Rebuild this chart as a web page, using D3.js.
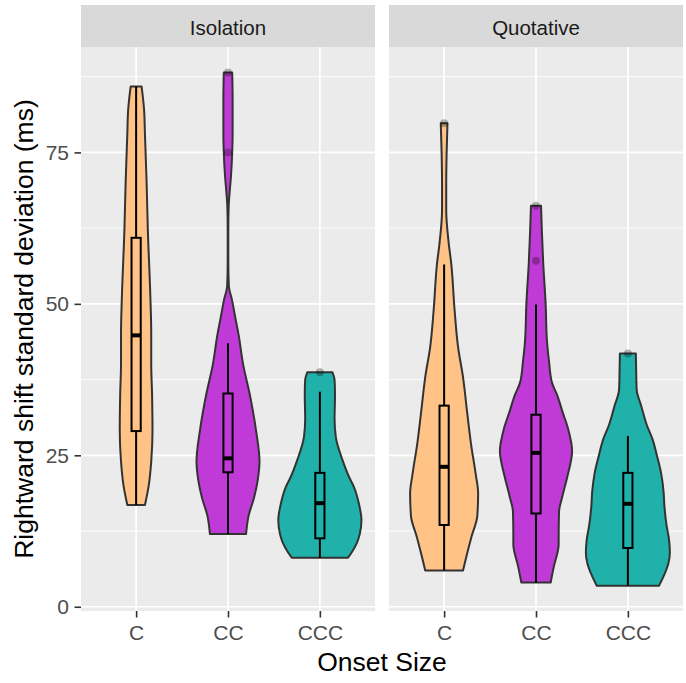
<!DOCTYPE html>
<html>
<head>
<meta charset="utf-8">
<script src="https://cdn.jsdelivr.net/npm/d3@7"></script>
<style>
  body { margin: 0; background: #fff; }
  text { font-family: "Liberation Sans", Arial, sans-serif; }
</style>
</head>
<body>
<div id="chart"></div>
<script>
const width = 686;
const height = 683;

// data
const panels = ["Isolation", "Quotative"];
const onsets = ["C", "CC", "CCC"];
const colors = ["#FFC387", "#BF3AD6", "#20B2AA"];
const yTicks = [0, 25, 50, 75];
const yMinor = [12.5, 37.5, 62.5, 87.5];

// violin outlines: [value, relative density]
const isoC = [[85.9,.13],[82,.19],[78,.21],[70,.25],[62,.28],[51,.34],[45,.36],[40,.36],[35,.38],[29,.39],[24,.36],[20,.30],[16.8,.21]];
const isoCC = [[88.2,.10],[84,.11],[78,.11],[75,.10],[71,.07],[68.5,.04],[66,.015],[62,.007],[57,.007],[53,.02],[50.5,.10],[47.5,.18],[45,.25],[40,.36],[35,.52],[29,.67],[24,.75],[21,.71],[18,.62],[15,.49],[12,.43]];
const isoCCC = [[38.7,.30],[37.5,.35],[35,.36],[31,.35],[28,.38],[24.2,.54],[21.5,.69],[19.8,.81],[17,.93],[14.3,.99],[12,.95],[10.5,.88],[9,.76],[8.1,.67]];
const quoC = [[79.8,.08],[75,.06],[70,.05],[65.4,.05],[60,.11],[56.6,.17],[48.9,.25],[43,.33],[37.9,.45],[32,.55],[26.9,.64],[22,.75],[18.7,.81],[15,.79],[11.5,.65],[8,.52],[6.0,.45]];
const quoCC = [[66.2,.12],[62,.14],[57,.17],[49.9,.23],[44,.26],[40.5,.31],[37,.38],[35,.5],[32,.64],[29.5,.76],[25.7,.86],[21.3,.74],[18,.62],[15.8,.55],[12,.54],[10.3,.54],[6.5,.42],[4.0,.35]];
const quoCCC = [[41.8,.19],[38,.20],[35.8,.21],[33.1,.32],[30,.45],[27.6,.59],[25,.69],[22.1,.79],[19,.85],[16.6,.87],[13.5,.92],[11.1,.98],[8.9,1],[7,.96],[5.5,.88],[3.45,.74]];
const violins = [[isoC, isoCC, isoCCC], [quoC, quoCC, quoCCC]];

// boxplots: [lower whisker, q1, median, q3, upper whisker]
const isoBoxes = [[16.8, 29, 44.8, 60.9, 85.9], [12, 22.2, 24.5, 35.2, 43.5], [8.1, 11.3, 17.1, 22.1, 35.5]];
const quoBoxes = [[6.0, 13.5, 23.1, 33.2, 56.5], [4.0, 15.4, 25.4, 31.7, 49.9], [3.5, 9.7, 17.0, 22.1, 28.2]];
const boxes = [isoBoxes, quoBoxes];

const isoOutliers = [[], [88.2, 75], [38.7]];
const quoOutliers = [[79.8], [66.2, 57.1], [41.8]];
const outliers = [isoOutliers, quoOutliers];

const panelLeft = [81, 389];
const panelW = 294;
const plotTop = 47, plotBottom = 611;

const svg = d3.select('#chart').append('svg')
  .attr('width', width)
  .attr('height', height);

const y = d3.scaleLinear().domain([-0.7, 92.4]).range([plotBottom, plotTop]);

panels.forEach((name, p) => {
  const x = d3.scalePoint().domain(onsets)
    .range([panelLeft[p], panelLeft[p] + panelW]).padding(0.6);
  const step = x.step();
  const w = d3.scaleLinear().domain([0, 1]).range([0, 0.457 * step]);

  const g = svg.append('g');

  g.append('rect')
    .attr('x', panelLeft[p]).attr('y', plotTop)
    .attr('width', panelW).attr('height', plotBottom - plotTop)
    .attr('fill', '#EBEBEB');

  // grid
  g.selectAll('.minor').data(yMinor).enter().append('line')
    .attr('x1', panelLeft[p]).attr('x2', panelLeft[p] + panelW)
    .attr('y1', d => y(d)).attr('y2', d => y(d))
    .attr('stroke', '#fff').attr('stroke-width', 0.9);
  g.selectAll('.major').data(yTicks).enter().append('line')
    .attr('x1', panelLeft[p]).attr('x2', panelLeft[p] + panelW)
    .attr('y1', d => y(d)).attr('y2', d => y(d))
    .attr('stroke', '#fff').attr('stroke-width', 1.7);
  g.selectAll('.vmajor').data(onsets).enter().append('line')
    .attr('x1', d => x(d)).attr('x2', d => x(d))
    .attr('y1', plotTop).attr('y2', plotBottom)
    .attr('stroke', '#fff').attr('stroke-width', 1.7);

  // strip
  g.append('rect')
    .attr('x', panelLeft[p]).attr('y', 5)
    .attr('width', panelW).attr('height', plotTop - 5)
    .attr('fill', '#D9D9D9');
  g.append('text')
    .attr('x', panelLeft[p] + panelW / 2).attr('y', 35)
    .attr('text-anchor', 'middle')
    .attr('font-size', 20.5).attr('fill', '#1A1A1A')
    .text(name);

  // violins
  onsets.forEach((c, i) => {
    const cx = x(c);
    const area = d3.area()
      .y(d => y(d[0]))
      .x0(d => cx - w(d[1]))
      .x1(d => cx + w(d[1]))
      .curve(d3.curveMonotoneY);
    g.append('path')
      .datum(violins[p][i])
      .attr('d', area)
      .attr('fill', colors[i])
      .attr('stroke', '#333333')
      .attr('stroke-width', 2)
      .attr('stroke-linejoin', 'round');
  });

  // boxplots
  onsets.forEach((c, i) => {
    const cx = x(c);
    const b = boxes[p][i];
    const bw = 0.1 * step;

    g.selectAll(null).data(outliers[p][i]).enter().append('circle')
      .attr('cx', cx).attr('cy', d => y(d)).attr('r', 4)
      .attr('fill', '#000').attr('fill-opacity', 0.28);

    g.append('line')
      .attr('x1', cx).attr('x2', cx)
      .attr('y1', y(b[0])).attr('y2', y(b[1]))
      .attr('stroke', '#000').attr('stroke-width', 2);
    g.append('line')
      .attr('x1', cx).attr('x2', cx)
      .attr('y1', y(b[3])).attr('y2', y(b[4]))
      .attr('stroke', '#000').attr('stroke-width', 2);
    g.append('rect')
      .attr('x', cx - bw / 2).attr('width', bw)
      .attr('y', y(b[3])).attr('height', y(b[1]) - y(b[3]))
      .attr('fill', 'none')
      .attr('stroke', '#000').attr('stroke-width', 2);
    g.append('line')
      .attr('x1', cx - bw / 2).attr('x2', cx + bw / 2)
      .attr('y1', y(b[2])).attr('y2', y(b[2]))
      .attr('stroke', '#000').attr('stroke-width', 4);
  });

  // x axis
  const xAxis = d3.axisBottom(x).tickSize(6.5).tickPadding(5);
  const ax = svg.append('g')
    .attr('transform', `translate(0, ${plotBottom})`)
    .call(xAxis);
  ax.select('.domain').remove();
  ax.selectAll('.tick line').attr('stroke', '#333').attr('stroke-width', 1.6);
  ax.selectAll('.tick text')
    .attr('font-size', 21).attr('fill', '#4D4D4D')
    .attr('font-family', '"Liberation Sans", Arial, sans-serif')
    .attr('dy', null).attr('y', 29);
});

// y axis
const yAxis = d3.axisLeft(y).tickValues(yTicks).tickSize(6.5).tickPadding(5.5);
const ay = svg.append('g')
  .attr('transform', `translate(${panelLeft[0]}, 0)`)
  .call(yAxis);
ay.select('.domain').remove();
ay.selectAll('.tick line').attr('stroke', '#333').attr('stroke-width', 1.6);
ay.selectAll('.tick text')
  .attr('font-size', 21).attr('fill', '#4D4D4D')
  .attr('font-family', '"Liberation Sans", Arial, sans-serif');

// titles
svg.append('text')
  .attr('transform', `translate(33, ${(plotTop + plotBottom) / 2}) rotate(-90)`)
  .attr('text-anchor', 'middle')
  .attr('font-size', 26.5)
  .text('Rightward shift standard deviation (ms)');

svg.append('text')
  .attr('x', panelLeft[0] + (panelLeft[1] + panelW - panelLeft[0]) / 2)
  .attr('y', 671)
  .attr('text-anchor', 'middle')
  .attr('font-size', 26.5)
  .text('Onset Size');
</script>
</body>
</html>
